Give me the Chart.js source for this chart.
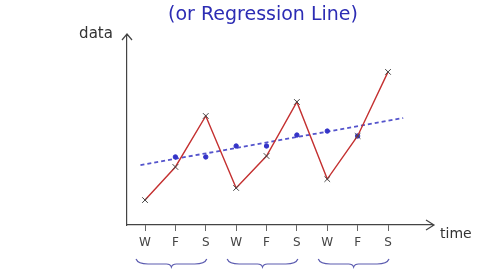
<!DOCTYPE html>
<html><head><meta charset="utf-8">
<script src="https://cdn.jsdelivr.net/npm/chart.js@4"></script>
<style>html,body{margin:0;padding:0;background:#fff}#wrap{width:480px;height:270px}</style>
</head><body><div id="wrap"><canvas id="c" width="480" height="270"></canvas></div>
<script>
const categories = ['W','F','S','W','F','S','W','F','S'];
const dataValues = [1.32, 3.07, 5.77, 1.96, 3.65, 6.51, 2.43, 4.71, 8.10];
const averageValues = [3.60, 3.60, 4.18, 4.18, 4.76, 4.97, 4.71];
const regX = [-0.15, 8.5];
const regY = [3.17, 5.66];
const groups = [[0,2],[3,5],[6,8]];
const titleText = '(or Regression Line)';
const yLabel = 'data';
const xLabel = 'time';

const HAND = '"DejaVu Sans", sans-serif';

const deco = {
  id: 'deco',
  afterDraw(chart) {
    const ctx = chart.ctx, a = chart.chartArea, xs = chart.scales.x;
    ctx.save();
    // title
    ctx.fillStyle = '#2c2cb4';
    ctx.font = '19px ' + HAND;
    ctx.textAlign = 'center'; ctx.textBaseline = 'middle';
    ctx.fillText(titleText, 263, 15);
    // axis arrows
    ctx.strokeStyle = '#444'; ctx.lineWidth = 1.2;
    ctx.beginPath();
    ctx.moveTo(a.left, a.top); ctx.lineTo(a.left, a.top - 2);
    ctx.moveTo(a.left - 5, a.top + 4); ctx.lineTo(a.left, a.top - 2); ctx.lineTo(a.left + 5, a.top + 4);
    ctx.moveTo(a.right - 6, a.bottom - 5); ctx.lineTo(a.right + 2, a.bottom); ctx.lineTo(a.right - 6, a.bottom + 5);
    ctx.moveTo(a.right, a.bottom); ctx.lineTo(a.right + 2, a.bottom);
    ctx.stroke();
    // axis labels
    ctx.fillStyle = '#333';
    ctx.font = '15px ' + HAND;
    ctx.textAlign = 'center'; ctx.textBaseline = 'middle';
    ctx.fillText(yLabel, 96, 34);
    ctx.font = '14px ' + HAND;
    ctx.textAlign = 'left';
    ctx.fillText(xLabel, a.right + 8, a.bottom + 9);
    // braces
    ctx.strokeStyle = '#5c5cb0'; ctx.lineWidth = 1.2;
    const by = 261;
    groups.forEach(([s,e]) => {
      const x0 = xs.getPixelForValue(s) - 9, x1 = xs.getPixelForValue(e) + 1, xm = (x0 + x1) / 2;
      ctx.beginPath();
      ctx.moveTo(x0, by - 2);
      ctx.quadraticCurveTo(x0 + 2, by + 3, x0 + 12, by + 3);
      ctx.lineTo(xm - 5, by + 3);
      ctx.quadraticCurveTo(xm - 1, by + 3, xm, by + 6);
      ctx.quadraticCurveTo(xm + 1, by + 3, xm + 5, by + 3);
      ctx.lineTo(x1 - 12, by + 3);
      ctx.quadraticCurveTo(x1 - 2, by + 3, x1, by - 2);
      ctx.stroke();
    });
    ctx.restore();
  }
};

new Chart(document.getElementById('c'), {
  type: 'line',
  data: {
    datasets: [
      {
        label: 'regression',
        data: regX.map((x, i) => ({x, y: regY[i]})),
        borderColor: '#5454cc', borderWidth: 1.8, borderDash: [4, 3],
        pointRadius: 0, order: 3
      },
      {
        label: 'average',
        data: averageValues.map((y, i) => ({x: i + 1, y})),
        showLine: false, pointRadius: 2.2, pointBackgroundColor: '#3434c8',
        pointBorderColor: '#3434c8', order: 2
      },
      {
        label: 'data',
        data: dataValues.map((y, i) => ({x: i, y})),
        borderColor: '#c43030', borderWidth: 1.4, tension: 0,
        pointStyle: 'crossRot', pointRadius: 4, pointBorderColor: '#444',
        pointBorderWidth: 1, order: 1
      }
    ]
  },
  options: {
    responsive: false, animation: false,
    layout: { padding: { top: 36, right: 48, left: 0, bottom: 0 } },
    plugins: { legend: { display: false }, title: { display: false }, tooltip: { enabled: false } },
    scales: {
      x: {
        type: 'linear', min: -0.593, max: 9.448,
        afterFit: s => { s.height = 45; },
        afterBuildTicks: s => { s.ticks = categories.map((c, i) => ({value: i})); },
        ticks: {
          autoSkip: false, maxRotation: 0, padding: 5,
          color: '#444', font: { family: HAND, size: 12 },
          callback: v => categories[v]
        },
        grid: { drawOnChartArea: false, drawTicks: true, tickLength: 6, color: '#666' },
        border: { display: true, color: '#444', width: 1.2 }
      },
      y: {
        min: 0, max: 10,
        afterFit: s => { s.width = 127; },
        ticks: { display: false },
        grid: { display: false },
        border: { display: true, color: '#444', width: 1.2 }
      }
    }
  },
  plugins: [deco]
});
</script>
</body></html>
